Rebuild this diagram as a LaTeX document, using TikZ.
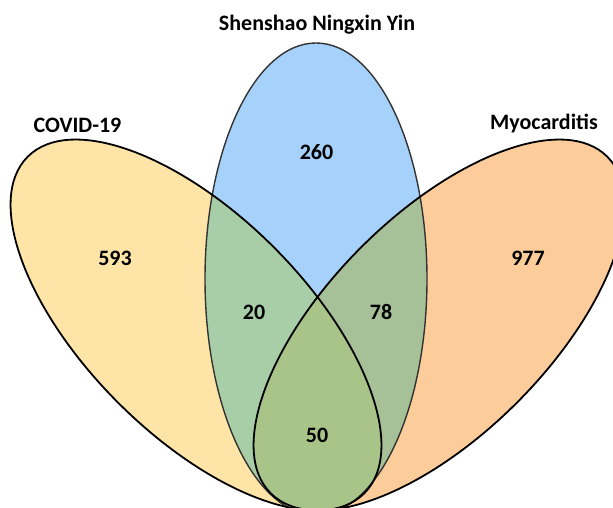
\documentclass[tikz,border=0pt]{standalone}
\usepackage{fontspec}
\setmainfont{Carlito}
\begin{document}
\definecolor{setyellow}{RGB}{254,228,166}
\definecolor{setblue}{RGB}{166,209,250}
\definecolor{setorange}{RGB}{252,204,154}
\definecolor{yellowblue}{RGB}{168,206,168}
\definecolor{blueorange}{RGB}{166,192,152}
\definecolor{allthree}{RGB}{168,196,136}
\begin{tikzpicture}[x=1pt,y=1pt,
  lbl/.style={font=\fontsize{22}{26}\selectfont\bfseries, inner sep=0pt},
  setline/.style={line width=1.8pt, draw=black},
  midline/.style={line width=1.4pt, draw=black!80}]
\useasboundingbox (0,0) rectangle (613,508);
\clip (0,0) rectangle (613,508);
% set shapes
\def\covid{(196,183) ellipse [x radius=238pt, y radius=110pt, rotate=-45]}
\def\herb{(316,229) ellipse [x radius=111pt, y radius=236pt]}
\def\myo{(439,183) ellipse [x radius=238pt, y radius=110pt, rotate=45]}
% base fills
\fill[setyellow] \covid;
\fill[setorange] \myo;
\fill[setblue] \herb;
% pairwise and triple overlaps
\begin{scope}
  \clip \covid;
  \fill[yellowblue] \herb;
\end{scope}
\begin{scope}
  \clip \myo;
  \fill[blueorange] \herb;
\end{scope}
\begin{scope}
  \clip \covid;
  \fill[allthree] \myo;
\end{scope}
% outlines
\draw[midline] \herb;
\draw[setline] \covid;
\draw[setline] \myo;
% titles
\node[lbl] (tcovid) at (77.5,383) {COVID-19};
\node[lbl] (therb) at (317,483) {Shenshao Ningxin Yin};
\node[lbl] (tmyo) at (544,384) {Myocarditis};
% counts
\node[lbl] (n593) at (115,250) {593};
\node[lbl] (n260) at (316.5,356) {260};
\node[lbl] (n977) at (528,250) {977};
\node[lbl] (n20) at (254,196) {20};
\node[lbl] (n78) at (381,196) {78};
\node[lbl] (n50) at (317,73) {50};
\end{tikzpicture}
\end{document}
